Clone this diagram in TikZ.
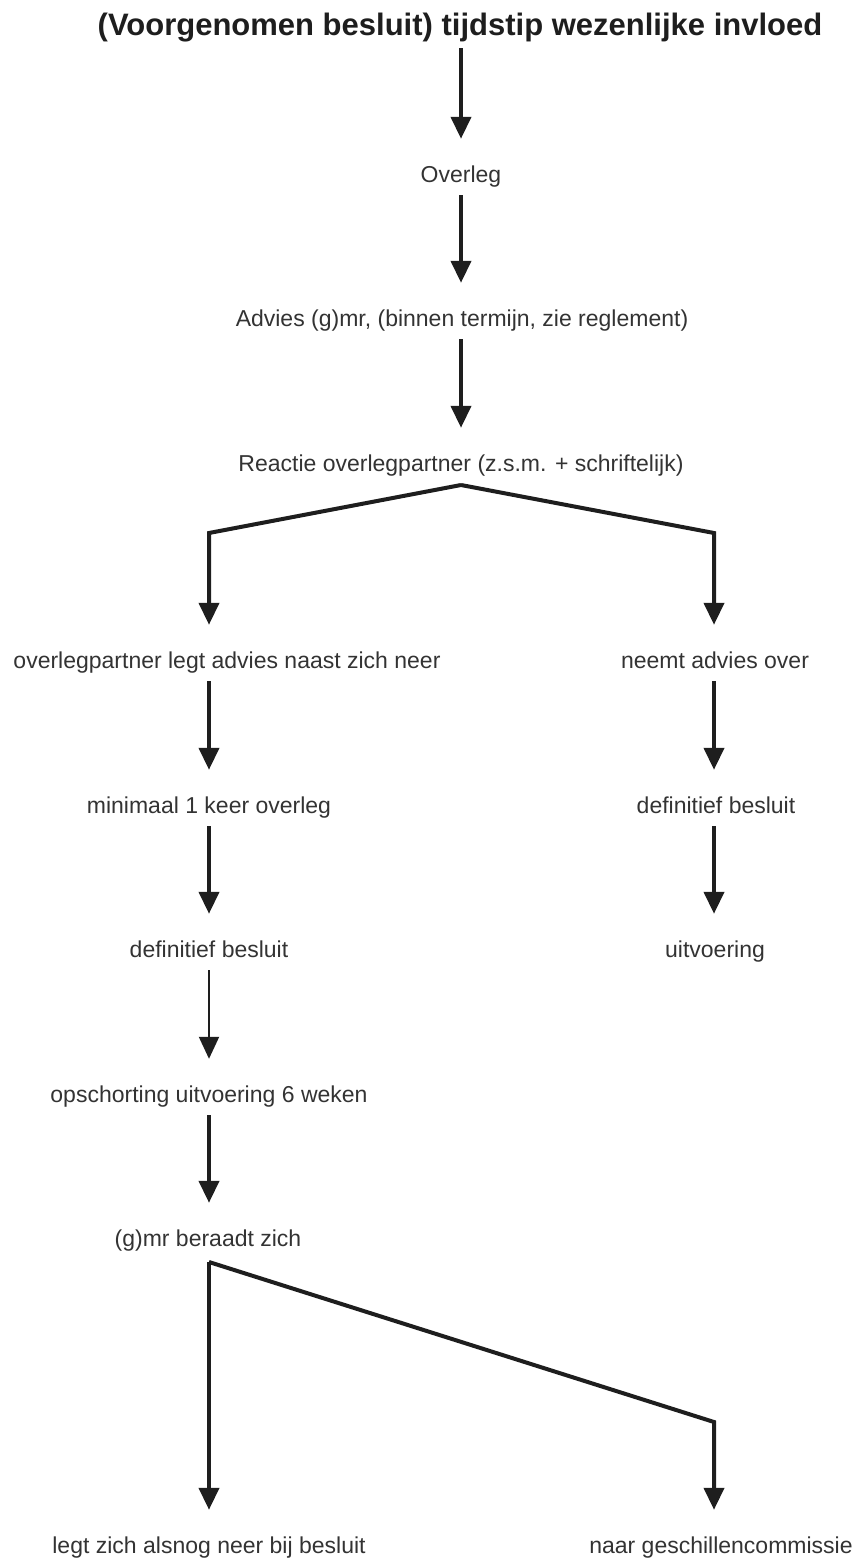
\documentclass[tikz,border=0pt]{standalone}
\usepackage{fontspec}
\setmainfont{Liberation Sans}
\usetikzlibrary{arrows.meta}
\definecolor{txt}{HTML}{333333}
\definecolor{ln}{HTML}{1E1E1E}
\tikzset{
  lbl/.style={inner sep=0pt, anchor=base, text=txt, font=\fontsize{23}{27}\selectfont, text height=17pt, text depth=5pt},
  ttl/.style={inner sep=0pt, anchor=base, text=ln, font=\fontsize{31}{36}\selectfont\bfseries, text height=23pt, text depth=4pt},
  arr/.style={draw=ln, line width=4pt, -{Triangle[width=20pt,length=22pt]}, shorten <=8pt, shorten >=26pt},
  thinarr/.style={arr, line width=2pt},
  brarr/.style={draw=ln, line width=4pt, line join=miter, -{Triangle[width=20pt,length=22pt]}, shorten >=26pt}
}
\begin{document}
\begin{tikzpicture}[x=1pt,y=-1pt]
\useasboundingbox (0,0) rectangle (851,1560);
\coordinate (L) at (209,0);
\coordinate (R) at (714,0);
\node[ttl] (title) at (460,36) {(Voorgenomen besluit) tijdstip wezenlijke invloed};
\node[lbl] (overleg) at (461,182) {Overleg};
\node[lbl] (advies) at (462,326) {Advies (g)mr, (binnen termijn, zie reglement)};
\node[lbl] (reactie) at (461,471) {Reactie overlegpartner (z.s.m. + schriftelijk)};
\node[lbl] (naast) at (227,668) {overlegpartner legt advies naast zich neer};
\node[lbl] (neemt) at (715,668) {neemt advies over};
\node[lbl] (minimaal) at (209,813) {minimaal 1 keer overleg};
\node[lbl] (defR) at (716,813) {definitief besluit};
\node[lbl] (defL) at (209,957) {definitief besluit};
\node[lbl] (uitv) at (715,957) {uitvoering};
\node[lbl] (opsch) at (209,1102) {opschorting uitvoering 6 weken};
\node[lbl] (gmr) at (208,1246) {(g)mr beraadt zich};
\node[lbl] (alsnog) at (209,1553) {legt zich alsnog neer bij besluit};
\node[lbl] (geschil) at (721,1553) {naar geschillencommissie};

\draw[arr, shorten <=8pt] (title.south -| overleg) -- (overleg.north);
\draw[arr] (overleg.south) -- (advies.north -| overleg);
\draw[arr] (advies.south -| overleg) -- (reactie.north -| overleg);

\coordinate (apex) at (461,485);
\coordinate (bl) at (209,533);
\coordinate (br) at (714,533);
\draw[brarr] (apex) -- (bl) -- (naast.north -| L);
\draw[brarr] (apex) -- (br) -- (neemt.north -| R);

\draw[arr] (naast.south -| L) -- (minimaal.north -| L);
\draw[arr] (minimaal.south -| L) -- (defL.north -| L);
\draw[thinarr] (defL.south -| L) -- (opsch.north -| L);
\draw[arr] (opsch.south -| L) -- (gmr.north -| L);

\draw[arr] (neemt.south -| R) -- (defR.north -| R);
\draw[arr] (defR.south -| R) -- (uitv.north -| R);

\coordinate (apex2) at (209,1262);
\coordinate (b2r) at (714,1422);
\draw[brarr, line cap=butt] (apex2) -- (alsnog.north -| L);
\draw[brarr] ([yshift=0pt]apex2) -- (b2r) -- (geschil.north -| R);
\end{tikzpicture}
\end{document}
